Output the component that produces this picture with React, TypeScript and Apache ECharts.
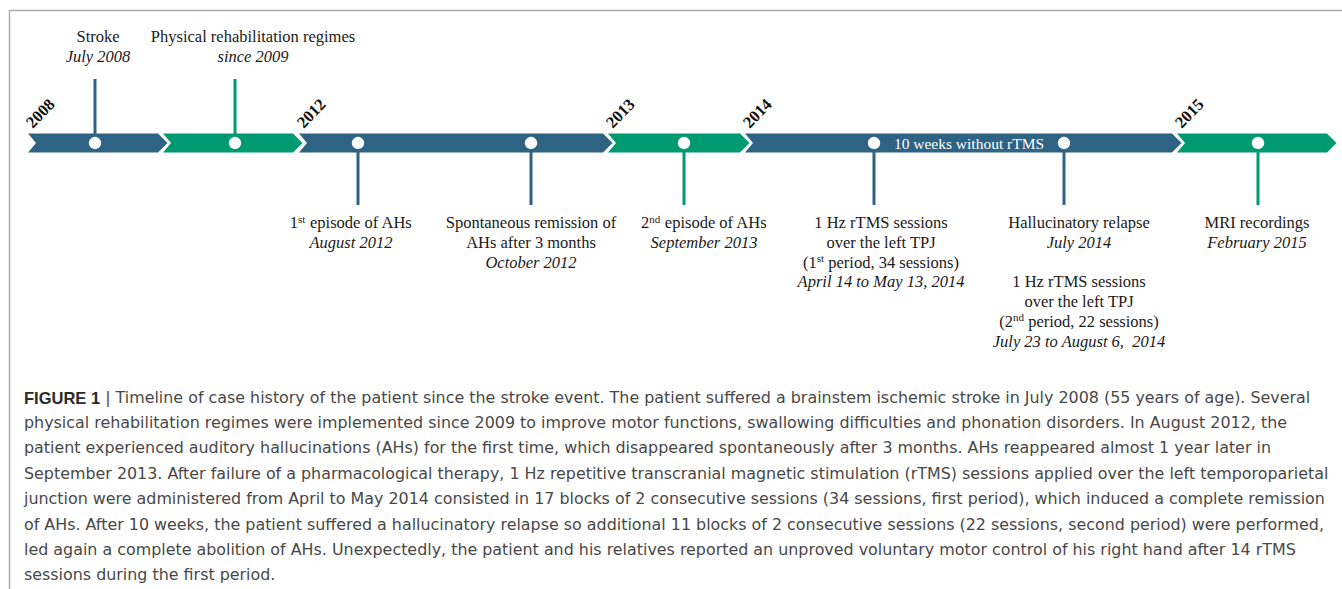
import React, { useEffect, useRef } from "react";
import * as echarts from "echarts";

// ---- data ----
const segmentYears = ["2008", "", "2012", "2013", "2014", "2015"];
const segmentStart = [28, 163, 299, 608, 745, 1177];
const segmentEnd = [158, 293, 603, 740, 1172, 1327];
const segmentColorKey = ["blue", "green", "blue", "green", "blue", "green"];

const eventPosition = [95, 235, 358, 531, 684, 874, 1064, 1258];
const eventSide = ["up", "up", "down", "down", "down", "down", "down", "down"];
const eventColorKey = ["blue", "green", "blue", "blue", "green", "blue", "blue", "green"];
const eventLines: string[][] = [
  ["Stroke", "{i|July 2008}"],
  ["Physical rehabilitation regimes", "{i|since 2009}"],
  ["1{sup|st} episode of AHs", "{i|August 2012}"],
  ["Spontaneous remission of", "AHs after 3 months", "{i|October 2012}"],
  ["2{sup|nd} episode of AHs", "{i|September 2013}"],
  ["1 Hz rTMS sessions", "over the left TPJ", "(1{sup|st} period, 34 sessions)", "{i|April 14 to May 13, 2014}"],
  [
    "Hallucinatory relapse",
    "{i|July 2014}",
    "",
    "1 Hz rTMS sessions",
    "over the left TPJ",
    "(2{sup|nd} period, 22 sessions)",
    "{i|July 23 to August 6,  2014}",
  ],
  ["MRI recordings", "{i|February 2015}"],
];

const gapStart = [874];
const gapEnd = [1064];
const gapText = ["10 weeks without rTMS"];

const captionLines = [
  "{b|FIGURE 1} | Timeline of case history of the patient since the stroke event. The patient suffered a brainstem ischemic stroke in July 2008 (55 years of age). Several",
  "physical rehabilitation regimes were implemented since 2009 to improve motor functions, swallowing difficulties and phonation disorders. In August 2012, the",
  "patient experienced auditory hallucinations (AHs) for the first time, which disappeared spontaneously after 3 months. AHs reappeared almost 1 year later in",
  "September 2013. After failure of a pharmacological therapy, 1 Hz repetitive transcranial magnetic stimulation (rTMS) sessions applied over the left temporoparietal",
  "junction were administered from April to May 2014 consisted in 17 blocks of 2 consecutive sessions (34 sessions, first period), which induced a complete remission",
  "of AHs. After 10 weeks, the patient suffered a hallucinatory relapse so additional 11 blocks of 2 consecutive sessions (22 sessions, second period) were performed,",
  "led again a complete abolition of AHs. Unexpectedly, the patient and his relatives reported an unproved voluntary motor control of his right hand after 14 rTMS",
  "sessions during the first period.",
];

// ---- layout / style ----
const W = 1342;
const H = 589;
const BAND_Y = 143;
const COLORS: Record<string, string> = { blue: "#2e6384", green: "#009a72" };
const labelShift = [3, 18, -7, 0, 20, 7, 15, -1];
const SERIF = '"Liberation Serif", "Times New Roman", serif';
const SANS = '"DejaVu Sans", sans-serif';
const SANS_B = '"Liberation Sans", Arial, sans-serif';
const FS = 16.5;
const LH = 19.7;

const rich = {
  i: { fontFamily: SERIF, fontSize: FS, fontStyle: "italic", lineHeight: LH, fill: "#1a1a1a" },
  sup: { fontFamily: SERIF, fontSize: 11, lineHeight: 12, verticalAlign: "top", fill: "#1a1a1a" },
};

export default function App() {
  const ref = useRef<HTMLDivElement>(null);
  useEffect(() => {
    if (!ref.current) return;
    const chart = echarts.init(ref.current, undefined, { renderer: "svg" });

    const half = 9.5;
    const tip = 9.5;
    const notch = 8;

    const captionGraphics = captionLines.map((t, i) => ({
      type: "text",
      left: 24,
      top: 389 + i * 25.4,
      style: {
        text: t,
        fontFamily: SANS,
        fontSize: 15.9,
        fill: "#484848",
        rich: {
          b: { fontFamily: SANS_B, fontSize: 16.5, fontWeight: "bold", fill: "#2a2a2a" },
        },
      },
    }));

    chart.setOption({
      animation: false,
      backgroundColor: "#ffffff",
      grid: { left: 0, right: 0, top: 0, bottom: 0 },
      xAxis: { type: "value", min: 0, max: W, show: false },
      yAxis: { type: "value", min: -(H - BAND_Y), max: BAND_Y, show: false },
      graphic: [
        {
          type: "polyline",
          shape: { points: [[9.5, H], [9.5, 10.5], [W, 10.5]] },
          style: { stroke: "#ababab", lineWidth: 1.5, fill: null },
        },
        ...captionGraphics,
      ],
      series: [
        {
          type: "custom",
          name: "segments",
          clip: false,
          encode: { x: [0, 1] },
          data: segmentStart.map((s, i) => [s, segmentEnd[i], i]),
          renderItem: (params: any, api: any) => {
            const i = api.value(2);
            const p0 = api.coord([api.value(0), 0]);
            const p1 = api.coord([api.value(1), 0]);
            const cy = p0[1];
            const children: any[] = [
              {
                type: "polygon",
                shape: {
                  points: [
                    [p0[0], cy - half],
                    [p1[0], cy - half],
                    [p1[0] + tip, cy],
                    [p1[0], cy + half],
                    [p0[0], cy + half],
                    [p0[0] + notch, cy],
                  ],
                },
                style: { fill: COLORS[segmentColorKey[i]] },
              },
            ];
            if (segmentYears[i]) {
              children.push({
                type: "text",
                x: p0[0] + 7,
                y: cy - 12,
                rotation: 0.8,
                style: {
                  text: segmentYears[i],
                  fontFamily: SERIF,
                  fontSize: 16.5,
                  fontWeight: "bold",
                  fill: "#111",
                  align: "left",
                  verticalAlign: "bottom",
                },
              });
            }
            return { type: "group", children };
          },
        },
        {
          type: "custom",
          name: "gap",
          clip: false,
          encode: { x: [0, 1] },
          data: gapStart.map((s, i) => [s, gapEnd[i], i]),
          renderItem: (params: any, api: any) => {
            const i = api.value(2);
            const p0 = api.coord([api.value(0), 0]);
            const p1 = api.coord([api.value(1), 0]);
            return {
              type: "text",
              x: (p0[0] + p1[0]) / 2,
              y: p0[1],
              style: {
                text: gapText[i],
                fontFamily: SERIF,
                fontSize: 15.5,
                fill: "#ffffff",
                align: "center",
                verticalAlign: "middle",
              },
            };
          },
        },
        {
          type: "custom",
          name: "events",
          clip: false,
          encode: { x: 0 },
          data: eventPosition.map((p, i) => [p, i]),
          renderItem: (params: any, api: any) => {
            const i = api.value(1);
            const p = api.coord([api.value(0), 0]);
            const up = eventSide[i] === "up";
            const color = COLORS[eventColorKey[i]];
            const stemEnd = up ? p[1] - 64 : p[1] + 62;
            return {
              type: "group",
              children: [
                {
                  type: "line",
                  shape: { x1: p[0], y1: p[1], x2: p[0], y2: stemEnd },
                  style: { stroke: color, lineWidth: 3 },
                },
                {
                  type: "circle",
                  shape: { cx: p[0], cy: p[1], r: 6.2 },
                  style: { fill: "#ffffff" },
                },
                {
                  type: "text",
                  x: p[0] + labelShift[i],
                  y: up ? p[1] - 77 : p[1] + 70,
                  style: {
                    text: eventLines[i].join("\n"),
                    fontFamily: SERIF,
                    fontSize: FS,
                    lineHeight: LH,
                    fill: "#1a1a1a",
                    align: "center",
                    verticalAlign: up ? "bottom" : "top",
                    rich,
                  },
                },
              ],
            };
          },
        },
      ],
    });
    return () => chart.dispose();
  }, []);
  return (
    <div
      ref={ref}
      style={{ position: "absolute", left: 0, top: 0, width: W, height: H, background: "#fff" }}
    />
  );
}
